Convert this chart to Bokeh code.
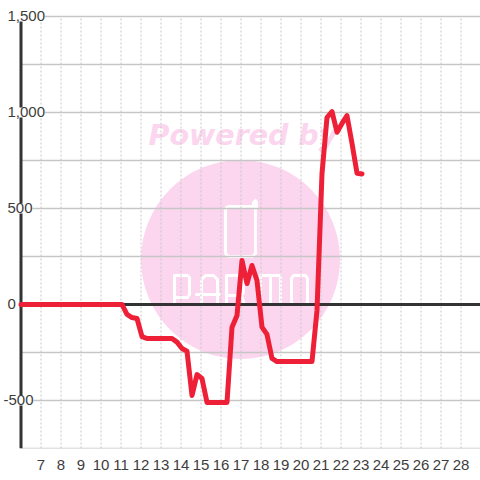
from bokeh.plotting import figure
from bokeh.models import FixedTicker, Label, Range1d
from bokeh.core.properties import value
from bokeh.embed import file_html
from bokeh.resources import INLINE

# Chart data
hours = [6, 11.05, 11.3, 11.55, 11.8, 12.05, 12.3, 12.55, 12.8, 13.05, 13.3, 13.55, 13.8, 14.05, 14.3,
         14.55, 14.8, 15.05, 15.3, 15.55, 15.8, 16.05, 16.3, 16.55, 16.8, 17.05, 17.3, 17.55, 17.8,
         18.05, 18.3, 18.55, 18.8, 19.05, 19.3, 19.55, 19.8, 20.05, 20.3, 20.55, 20.8, 21.05, 21.3,
         21.55, 21.8, 22.05, 22.3, 22.55, 22.8, 23.05]
values = [0, 0, -52, -68, -73, -167, -177, -177, -177, -177, -177, -177, -196, -229, -243,
          -474, -365, -385, -510, -510, -510, -510, -510, -118, -57, 229, 109, 203, 125,
          -118, -156, -281, -297, -297, -297, -297, -297, -297, -297, -297, -31, 682, 974,
          1005, 897, 943, 984, 839, 684, 680]
x_ticks = list(range(7, 29))
y_grid_ticks = [-750, -500, -250, 0, 250, 500, 750, 1000, 1250, 1500]
y_label_ticks = [-500, 0, 500, 1000, 1500]
y_label_text = ["-500", "0", "500", "1,000", "1,500"]
watermark_text = "Powered by"

FONT = "Liberation Sans"
TEXT = "#3d3d3d"
GRID = "#c6c6c6"
DARK = "#333333"
PINK = "#fbd6ee"
RED = "#ee2038"

X_END = 28.975

p = figure(width=480, height=480, output_backend="svg", toolbar_location=None,
           x_range=Range1d(4.975, X_END), y_range=Range1d(-750, 1583.33),
           x_axis_location="below", y_axis_location=None,
           min_border_left=0, min_border_right=0, min_border_top=0, min_border_bottom=32,
           outline_line_color=None, background_fill_color="white", border_fill_color="white",
           styles={"position": "absolute", "left": "0px", "top": "0px"})
p.grid.visible = False


def px_x(v):
    return 4.975 + v / 20.0


def px_y(v):
    return (448 - v) / 0.192 - 750


# Watermark
p.scatter([px_x(240)], [px_y(259)], size=199, marker="circle", fill_color=PINK, line_color=None, level="image")
p.text([px_x(148)], [px_y(135)], text=[watermark_text], text_font=value("DejaVu Sans"), text_font_size="28.5px",
       text_font_style="bold italic", text_color=PINK, text_baseline="middle", text_align="left", level="image")
shapes = [
    [(225, 210), (226, 207), (229, 206), (252, 206), (255, 208), (255, 253), (252, 256), (229, 256), (226, 255), (225, 252), (225, 210)],
    [(253, 206), (253, 202), (255, 200), (256, 202), (256, 207)],
    [(174, 304), (174, 275), (187, 275), (189, 277), (189, 294), (187, 297), (175, 297)],
    [(201, 304), (201, 279), (205, 275), (213, 275), (217, 279), (217, 304)],
    [(196, 294), (219, 294)],
    [(226, 304), (226, 275), (241, 275), (243, 277), (243, 292), (241, 295), (226, 295)],
    [(241, 295), (244, 304)],
    [(260, 304), (260, 275), (280, 275), (280, 304)],
    [(270, 275), (270, 304)],
    [(291, 278), (293, 275), (305, 275), (307, 278), (307, 302), (305, 304), (293, 304), (291, 302), (291, 278)],
]
p.multi_line([[px_x(a) for a, _ in s] for s in shapes], [[px_y(b) for _, b in s] for s in shapes],
             line_color="white", line_width=3, line_join="round", line_cap="round", level="image")

# Grid lines, limited to the plot body
p.segment(x_ticks, [y_grid_ticks[0]] * len(x_ticks), x_ticks, [y_grid_ticks[-1]] * len(x_ticks),
          line_color=GRID, line_width=1, line_dash="2 2", level="underlay")
p.segment([6] * len(y_grid_ticks), y_grid_ticks, [X_END] * len(y_grid_ticks), y_grid_ticks,
          line_color=GRID, line_width=1.3, level="underlay")

# Bottom tick labels
ax = p.xaxis[0]
ax.ticker = FixedTicker(ticks=x_ticks)
ax.axis_line_color = None
ax.major_tick_line_color = None
ax.minor_tick_line_color = None
ax.major_label_text_font = FONT
ax.major_label_text_font_size = "15px"
ax.major_label_text_color = TEXT
ax.major_label_standoff = 5

# Left axis line and zero line
p.segment([6], [y_grid_ticks[0]], [6], [y_grid_ticks[-1]], line_color=DARK, line_width=3, level="underlay")
p.segment([6], [0], [X_END], [0], line_color=DARK, line_width=3, level="underlay")

# Series
p.line(hours, values, line_color=RED, line_width=5, line_join="round", line_cap="round")

# Y labels with a white backing, interrupting axis and grid
for tick, label in zip(y_label_ticks, y_label_text):
    p.add_layout(Label(x=px_x(3 if tick < 0 else 7), y=tick, text=label, text_font=FONT, text_font_size="15px",
                       text_color=TEXT, text_align="left", text_baseline="middle",
                       background_fill_color="white"))

open("out.html", "w").write(file_html(p, INLINE))
